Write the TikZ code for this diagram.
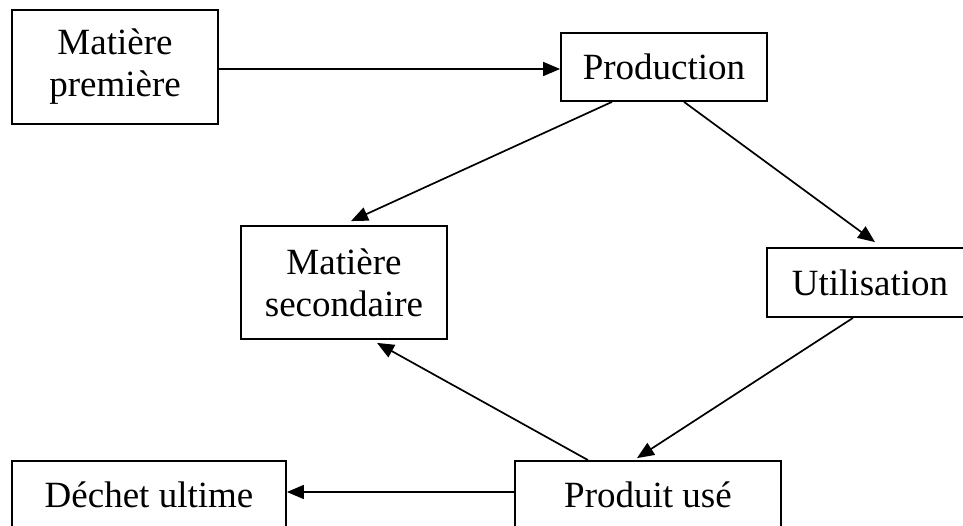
\documentclass[tikz,border=0pt]{standalone}
\usepackage{fontspec}
\setmainfont{Liberation Serif}
\usepackage{tikz}
\usetikzlibrary{arrows.meta, positioning}
\tikzstyle{bloc} = [rectangle,
inner sep=0pt,
minimum width=206pt,
minimum height=68pt,
text centered,
align=center,
line width=1.8pt,
draw=black]
\tikzstyle{fleche} = [line width=1.7pt,-{Triangle[length=17pt,width=14pt]},draw=black]

\begin{document}
\begin{tikzpicture}[x=1pt, y=-1pt, every node/.style={font=\fontsize{37}{42}\selectfont}]

        \useasboundingbox (0,0) rectangle (963,526);
        \clip (0,0) rectangle (963,526);

        % Noeuds
        \node (mp) [bloc, minimum height=114pt] at (115,67) {Matière\\première};
        \node (prod) [bloc] at (664,67) {Production};
        \node (ms) [bloc, minimum height=113pt] at (344,282.5) {Matière\\secondaire};
        \node (util) [bloc, minimum height=69pt] at (870,282.5) {Utilisation};
        \node (dechet) [bloc, minimum width=274pt] at (149,495) {Déchet ultime};
        \node (usage) [bloc, minimum width=266pt] at (648,495) {Produit usé};

        % Connexions
        \draw [fleche] ([yshift=-2pt]mp.east) -- ([yshift=-2pt]prod.west);
        \draw [fleche] ([xshift=-52pt]prod.south) -- ([xshift=7pt,yshift=4pt]ms.north);
        \draw [fleche] ([xshift=20pt]prod.south) -- ([xshift=5pt,yshift=5pt]util.north);
        \draw [fleche] ([xshift=-17pt]util.south) -- ([xshift=-11pt,yshift=2pt]usage.north);
        \draw [fleche] ([xshift=-60pt]usage.north) -- ([xshift=33pt,yshift=-3pt]ms.south);
        \draw [fleche] ([yshift=3pt]usage.west) -- ([yshift=3pt]dechet.east);

\end{tikzpicture}
\end{document}
